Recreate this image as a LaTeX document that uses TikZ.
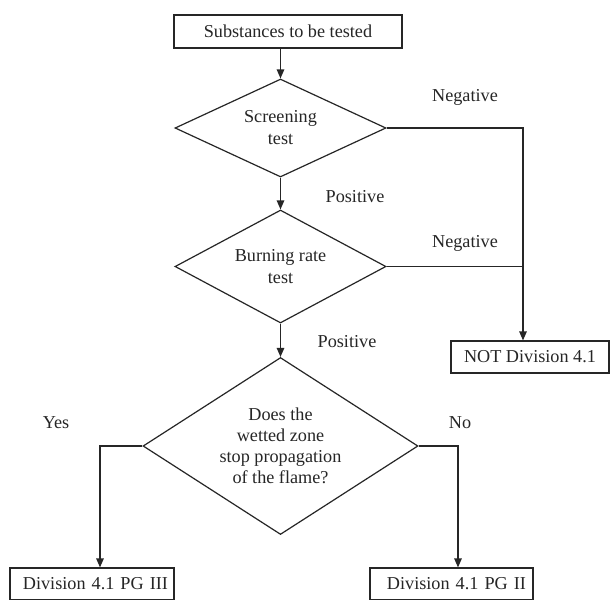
\documentclass[tikz,border=0pt]{standalone}
\usepackage{fontspec}
\setmainfont{Liberation Serif}
\usetikzlibrary{shapes.geometric,arrows.meta}
\definecolor{ink}{HTML}{262626}
\begin{document}
\begin{tikzpicture}[x=1pt,y=-1pt,
  font=\fontsize{18.2}{22}\selectfont,
  every node/.style={text=ink},
  conn/.style={draw=ink,line width=1.2pt},
  arr/.style={conn,-{Triangle[length=9pt,width=7.5pt]}},
  boxnode/.style={draw=ink,line width=1.2pt,rectangle,inner sep=0pt,minimum height=32},
  decision/.style={draw=ink,line width=1.2pt,diamond,inner sep=0pt,align=center},
  lbl/.style={inner sep=0pt}]
\useasboundingbox (0,0) rectangle (611,600);
\fill[white] (0,0) rectangle (611,600);

\node[boxnode,minimum width=228,minimum height=33] (top) at (288,31.5) {Substances to be tested};
\node[decision,shape aspect=2.15,minimum width=211,minimum height=98] (scr) at (280.5,128) {Screening\\test};
\node[decision,shape aspect=1.87,minimum width=211,minimum height=113] (burn) at (280.5,266.5) {Burning rate\\test};
\node[decision,shape aspect=1.55,minimum width=275,minimum height=177,font=\fontsize{18.2}{21}\selectfont] (wet) at (280.5,446) {Does the\\wetted zone\\stop propagation\\of the flame?};
\node[boxnode,minimum width=158] (notd) at (530,357) {NOT Division 4.1};
\node[boxnode,inner xsep=6pt,text width=152pt,align=right] (pg3) at (92,584) {Division 4.1 PG III};
\node[boxnode,inner xsep=7pt,text width=149pt,align=right] (pg2) at (451.5,584) {Division 4.1 PG II};

\coordinate (jn) at (523,128);
\coordinate (yc) at (100,446);
\coordinate (nc) at (458,446);

\draw[arr] (scr.north |- top.south) -- (scr.north);
\draw[arr] (scr.south) -- (burn.north);
\draw[arr] (burn.south) -- (wet.north);
\draw[arr] (scr.east) -- (jn) -- (jn |- notd.north);
\draw[conn] (burn.east) -- (burn.east -| jn);
\draw[arr] (wet.west) -- (yc) -- (yc |- pg3.north);
\draw[arr] (wet.east) -- (nc) -- (nc |- pg2.north);

\node[lbl] (neg1) at (465,97) {Negative};
\node[lbl] (neg2) at (465,243) {Negative};
\node[lbl] (pos1) at (355,197) {Positive};
\node[lbl] (pos2) at (347,342) {Positive};
\node[lbl] (yes) at (56,423) {Yes};
\node[lbl] (no) at (460,423) {No};
\end{tikzpicture}
\end{document}
